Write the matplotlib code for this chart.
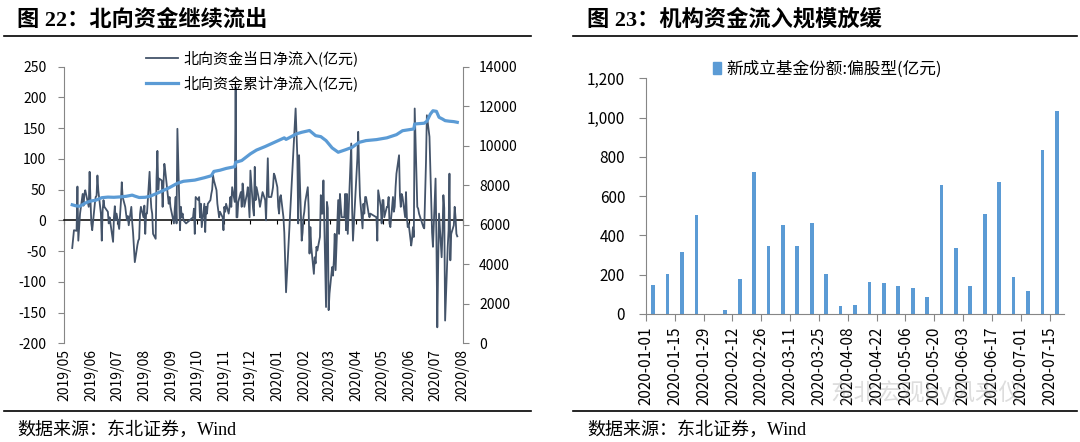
import numpy as np
import pandas as pd
import matplotlib
matplotlib.use("Agg")
import matplotlib.pyplot as plt
import matplotlib.dates as mdates
from matplotlib.lines import Line2D
from matplotlib.patches import Patch
from matplotlib.ticker import MultipleLocator, FuncFormatter

plt.rcParams['font.family'] = ['Noto Sans CJK SC', 'DejaVu Sans']
plt.rcParams['axes.unicode_minus'] = False

# ---------------- 图22 data: daily northbound net flow (亿元), one list per month
flow_2019_05 = [-45, -30, -16, -17, 55, -33, -10, 11]
flow_2019_06 = [43, 24, 43, 49, 22, 79, 33, -5, -16, 27, 38, 40, 73, 49, 11, -33, 16, 33, 22]
flow_2019_07 = [14, -5, 5, -5, -35, 5, 23, 0, 11, -14, 8, 30, 62, 38, 22, 10, 0, 7, -8, 22, -3, -20]
flow_2019_08 = [-43, -68, -40, -33, -30, 10, 22, 5, 24, -22, 11, 11, 79, 43, 20, 11, -22, -30, 68, 113, 50, 68]
flow_2019_09 = [65, 22, 60, 92, 81, 40, 27, 38, 22, -5, 20, 38, -5, 149, -16, 22, 5, 11, 0, -5]
flow_2019_10 = [5, 19, -22, 38, 33, 38, 5, 27, -11, 27, -19, 22, 11, 27, 33, 43, 50, 73]
flow_2019_11 = [65, 49, 27, 16, 5, 14, 5, -16, 22, 14, 27, 11, 22, 38, 22, 54, 30, 217, 5, 5, 30]
flow_2019_12 = [46, 22, 60, 45, 22, 43, 54, 30, 5, 81, 20, 8, 87, 33, 54, 33, 22, 46, 33, 0]
flow_2020_01 = [101, 38, 38, 45, 54, 76, 73, 54, 22, 11, 38, 41, 5, -20, -70, -117]
flow_2020_02 = [182, 140, 103, -5, 106, -33, -20, 5, 14, 30, 54, 20, -54, -11, -43, -87, -60, -70, -43, -49]
flow_2020_03 = [-27, 41, 11, 11, 65, -141, 30, 20, -146, -119, -76, -90, -65, -22, -81, 33, -22, 43, 22, 5, 5, 43]
flow_2020_04 = [-16, 43, -22, 125, 20, -33, 100, 144, 87, 40, -13, 27, 11, 38, 38, 11, 5, 11]
flow_2020_05 = [5, -33, 49, 22, -5, 33, 33, 5, 22, 22, 38, -5, -11, 38, 14, 22, 54, 76]
flow_2020_06 = [106, 40, 22, 43, 38, 5, 46, 5, -11, -5, -41, -30, -11, -27, 182, 22, 19, 11, -11, -13]
flow_2020_07 = [95, 171, 136, 81, 33, -20, -43, 68, -30, -174, -70, 11, -60, -19, 41, 20, -163, -43, -16, 76, -65, -22]
flow_2020_08 = [-8, 22, 5, -22, -26]

# days the Stock Connect northbound link was closed
closed_days = ['2019-06-07', '2019-07-01', '2019-09-13', '2019-10-01', '2019-10-02',
               '2019-10-03', '2019-10-04', '2019-10-07', '2019-12-25', '2019-12-26',
               '2020-01-01', '2020-01-24', '2020-01-27', '2020-01-28', '2020-01-29',
               '2020-01-30', '2020-01-31', '2020-04-06', '2020-04-10', '2020-04-13',
               '2020-04-30', '2020-05-01', '2020-05-04', '2020-05-05', '2020-06-25',
               '2020-06-26', '2020-07-01']

# cumulative northbound net flow (亿元)
cum_dates = ['2019-05-22', '2019-05-27', '2019-05-31', '2019-06-06', '2019-06-12', '2019-06-18',
             '2019-06-25', '2019-07-02', '2019-07-09', '2019-07-16', '2019-07-23', '2019-07-30',
             '2019-08-02', '2019-08-07', '2019-08-14', '2019-08-20', '2019-08-28', '2019-09-03',
             '2019-09-10', '2019-09-20', '2019-09-27', '2019-10-10', '2019-10-21', '2019-10-29',
             '2019-11-01', '2019-11-08', '2019-11-15', '2019-11-25', '2019-11-26', '2019-12-03',
             '2019-12-13', '2019-12-20', '2019-12-30', '2020-01-07', '2020-01-14', '2020-01-21',
             '2020-01-23', '2020-02-04', '2020-02-10', '2020-02-19', '2020-02-26', '2020-03-03',
             '2020-03-09', '2020-03-16', '2020-03-23', '2020-03-31', '2020-04-08', '2020-04-16',
             '2020-04-24', '2020-05-06', '2020-05-18', '2020-05-29', '2020-06-05', '2020-06-18',
             '2020-06-19', '2020-06-30', '2020-07-03', '2020-07-07', '2020-07-10', '2020-07-14',
             '2020-07-17', '2020-07-21', '2020-07-24', '2020-07-29', '2020-08-03', '2020-08-07']
cum_values = [7010, 6950, 6940, 7100, 7200, 7240, 7370, 7400, 7390, 7410, 7440, 7500,
              7450, 7380, 7390, 7450, 7600, 7720, 7860, 8100, 8200, 8260, 8380, 8480,
              8700, 8760, 8850, 8940, 9160, 9250, 9590, 9780, 9960, 10120, 10260, 10400,
              10320, 10600, 10680, 10770, 10510, 10460, 10260, 9890, 9670, 9790, 9920, 10170,
              10260, 10310, 10400, 10560, 10760, 10850, 11100, 11140, 11240, 11600, 11770, 11740,
              11440, 11350, 11270, 11240, 11220, 11185]

# ---------------- 图23 data: weekly new equity fund shares (亿元)
fund_weeks = ['2020-01-01', '2020-01-08', '2020-01-15', '2020-01-22', '2020-01-29', '2020-02-05',
              '2020-02-12', '2020-02-19', '2020-02-26', '2020-03-04', '2020-03-11', '2020-03-18',
              '2020-03-25', '2020-04-01', '2020-04-08', '2020-04-15', '2020-04-22', '2020-04-29',
              '2020-05-06', '2020-05-13', '2020-05-20', '2020-05-27', '2020-06-03', '2020-06-10',
              '2020-06-17', '2020-06-24', '2020-07-01', '2020-07-08', '2020-07-15']
fund_shares = [150, 205, 318, 505, 0, 22, 177, 722, 346, 452, 348, 462, 205, 39, 46,
               163, 158, 141, 131, 87, 657, 336, 143, 507, 673, 186, 117, 833, 1034]

daily_flow = (flow_2019_05 + flow_2019_06 + flow_2019_07 + flow_2019_08 + flow_2019_09
              + flow_2019_10 + flow_2019_11 + flow_2019_12 + flow_2020_01 + flow_2020_02
              + flow_2020_03 + flow_2020_04 + flow_2020_05 + flow_2020_06 + flow_2020_07
              + flow_2020_08)
flow_dates = pd.bdate_range('2019-05-22', '2020-08-07', freq='C', holidays=closed_days)
if len(flow_dates) != len(daily_flow):
    raise SystemExit(f"dates {len(flow_dates)} vs values {len(daily_flow)}")

W, H = 1080, 442
fx = lambda px: px / W
fy = lambda py: 1 - py / H

DARK = '#44546A'
BLUE = '#5B9BD5'
GRAY = '#868686'

fig = plt.figure(figsize=(W / 100, H / 100), dpi=100)

# ================= left chart
ax = fig.add_axes([fx(64.4), fy(343.3), (462.5 - 64.4) / W, (343.3 - 66.7) / H])
ax.plot(flow_dates, daily_flow, color=DARK, lw=1.3, zorder=3)
ax.set_xlim(pd.Timestamp('2019-05-13'), pd.Timestamp('2020-08-13'))
ax.set_ylim(-200, 250)
ax.yaxis.set_major_locator(MultipleLocator(50))

ax2 = ax.twinx()
ax2.plot(pd.to_datetime(cum_dates), cum_values, color=BLUE, lw=2.3)
ax2.set_ylim(0, 14000)
ax2.yaxis.set_major_locator(MultipleLocator(2000))

for s in ['top', 'right']:
    ax.spines[s].set_visible(False)
for s in ['top', 'left', 'bottom']:
    ax2.spines[s].set_visible(False)
ax.spines['left'].set_color(GRAY)
ax2.spines['right'].set_color(GRAY)
ax.spines['bottom'].set_position(('data', 0))
ax.spines['bottom'].set_color('black')
ax.spines['bottom'].set_linewidth(1.1)

months = mdates.MonthLocator(bymonthday=13)
ax.xaxis.set_major_locator(months)
ax.tick_params(axis='x', direction='out', length=3, color='black', labelbottom=False)
ax.tick_params(axis='y', direction='out', length=4, color=GRAY, labelsize=10, pad=9)
ax2.tick_params(axis='y', direction='out', length=4, color=GRAY, labelsize=10, pad=8)

sec = ax.secondary_xaxis(0)
sec.xaxis.set_major_locator(mdates.MonthLocator(bymonthday=13))
sec.xaxis.set_major_formatter(mdates.DateFormatter('%Y/%m'))
sec.tick_params(axis='x', length=0, labelrotation=90, labelsize=10, pad=4)
sec.spines['bottom'].set_visible(False)

fig.legend([Line2D([], [], color=DARK, lw=1.3), Line2D([], [], color=BLUE, lw=2.3)],
           ['北向资金当日净流入(亿元)', '北向资金累计净流入(亿元)'],
           loc='upper left', bbox_to_anchor=(fx(146), fy(50)), frameon=False,
           fontsize=10.8, handlelength=2.1, handletextpad=0.4, labelspacing=0.65,
           borderpad=0, borderaxespad=0)

# ================= right chart
axr = fig.add_axes([fx(646), fy(314), (1064 - 646) / W, (314 - 78.3) / H])
pos = np.arange(len(fund_shares)) + 0.5
axr.bar(pos, fund_shares, width=0.26, color=BLUE)
axr.set_xlim(0, len(fund_shares))
axr.set_ylim(0, 1200)
axr.yaxis.set_major_locator(MultipleLocator(200))
axr.yaxis.set_major_formatter(FuncFormatter(lambda v, p: f'{v:,.0f}'))
axr.set_xticks(np.arange(0, len(fund_weeks), 2))
axr.set_xticklabels(fund_weeks[::2], rotation=90)
for s in ['top', 'right']:
    axr.spines[s].set_visible(False)
axr.spines['left'].set_color(GRAY)
axr.spines['bottom'].set_color(GRAY)
axr.tick_params(axis='x', direction='out', length=5, color=GRAY, labelsize=11, pad=4)
axr.tick_params(axis='y', direction='out', length=5, color=GRAY, labelsize=11, pad=10)

fig.legend([Patch(color=BLUE)], ['新成立基金份额:偏股型(亿元)'],
           loc='upper left', bbox_to_anchor=(fx(713), fy(60)), frameon=False,
           fontsize=12, handlelength=0.45, handleheight=0.75, handletextpad=0.35,
           borderpad=0, borderaxespad=0)

# ================= titles, rules, source notes
serif_cjk = ['Liberation Serif', 'Noto Sans CJK SC']
fig.text(fx(17), fy(20), '图 22：北向资金继续流出', fontsize=16, fontweight='bold',
         va='center', family=serif_cjk)
fig.text(fx(587), fy(20), '图 23：机构资金流入规模放缓', fontsize=16, fontweight='bold',
         va='center', family=serif_cjk)
for x0, x1 in [(4, 531), (573, 1077)]:
    fig.add_artist(Line2D([fx(x0), fx(x1)], [fy(36), fy(36)], color='black', lw=1.2))
    fig.add_artist(Line2D([fx(x0), fx(x1)], [fy(411), fy(411)], color='black', lw=1.2))
fig.text(fx(17), fy(430), '数据来源：东北证券，Wind', fontsize=13, va='center', family=serif_cjk)
fig.text(fx(587), fy(430), '数据来源：东北证券，Wind', fontsize=13, va='center', family=serif_cjk)

# faint WeChat watermark (it sits over the date labels in the source image too)
fig.text(fx(830), fy(392), '东北宏观by风来仪', fontsize=17, color='#9e9e9e', alpha=0.35,
         va='center')

fig.savefig('out.png', dpi=100)
